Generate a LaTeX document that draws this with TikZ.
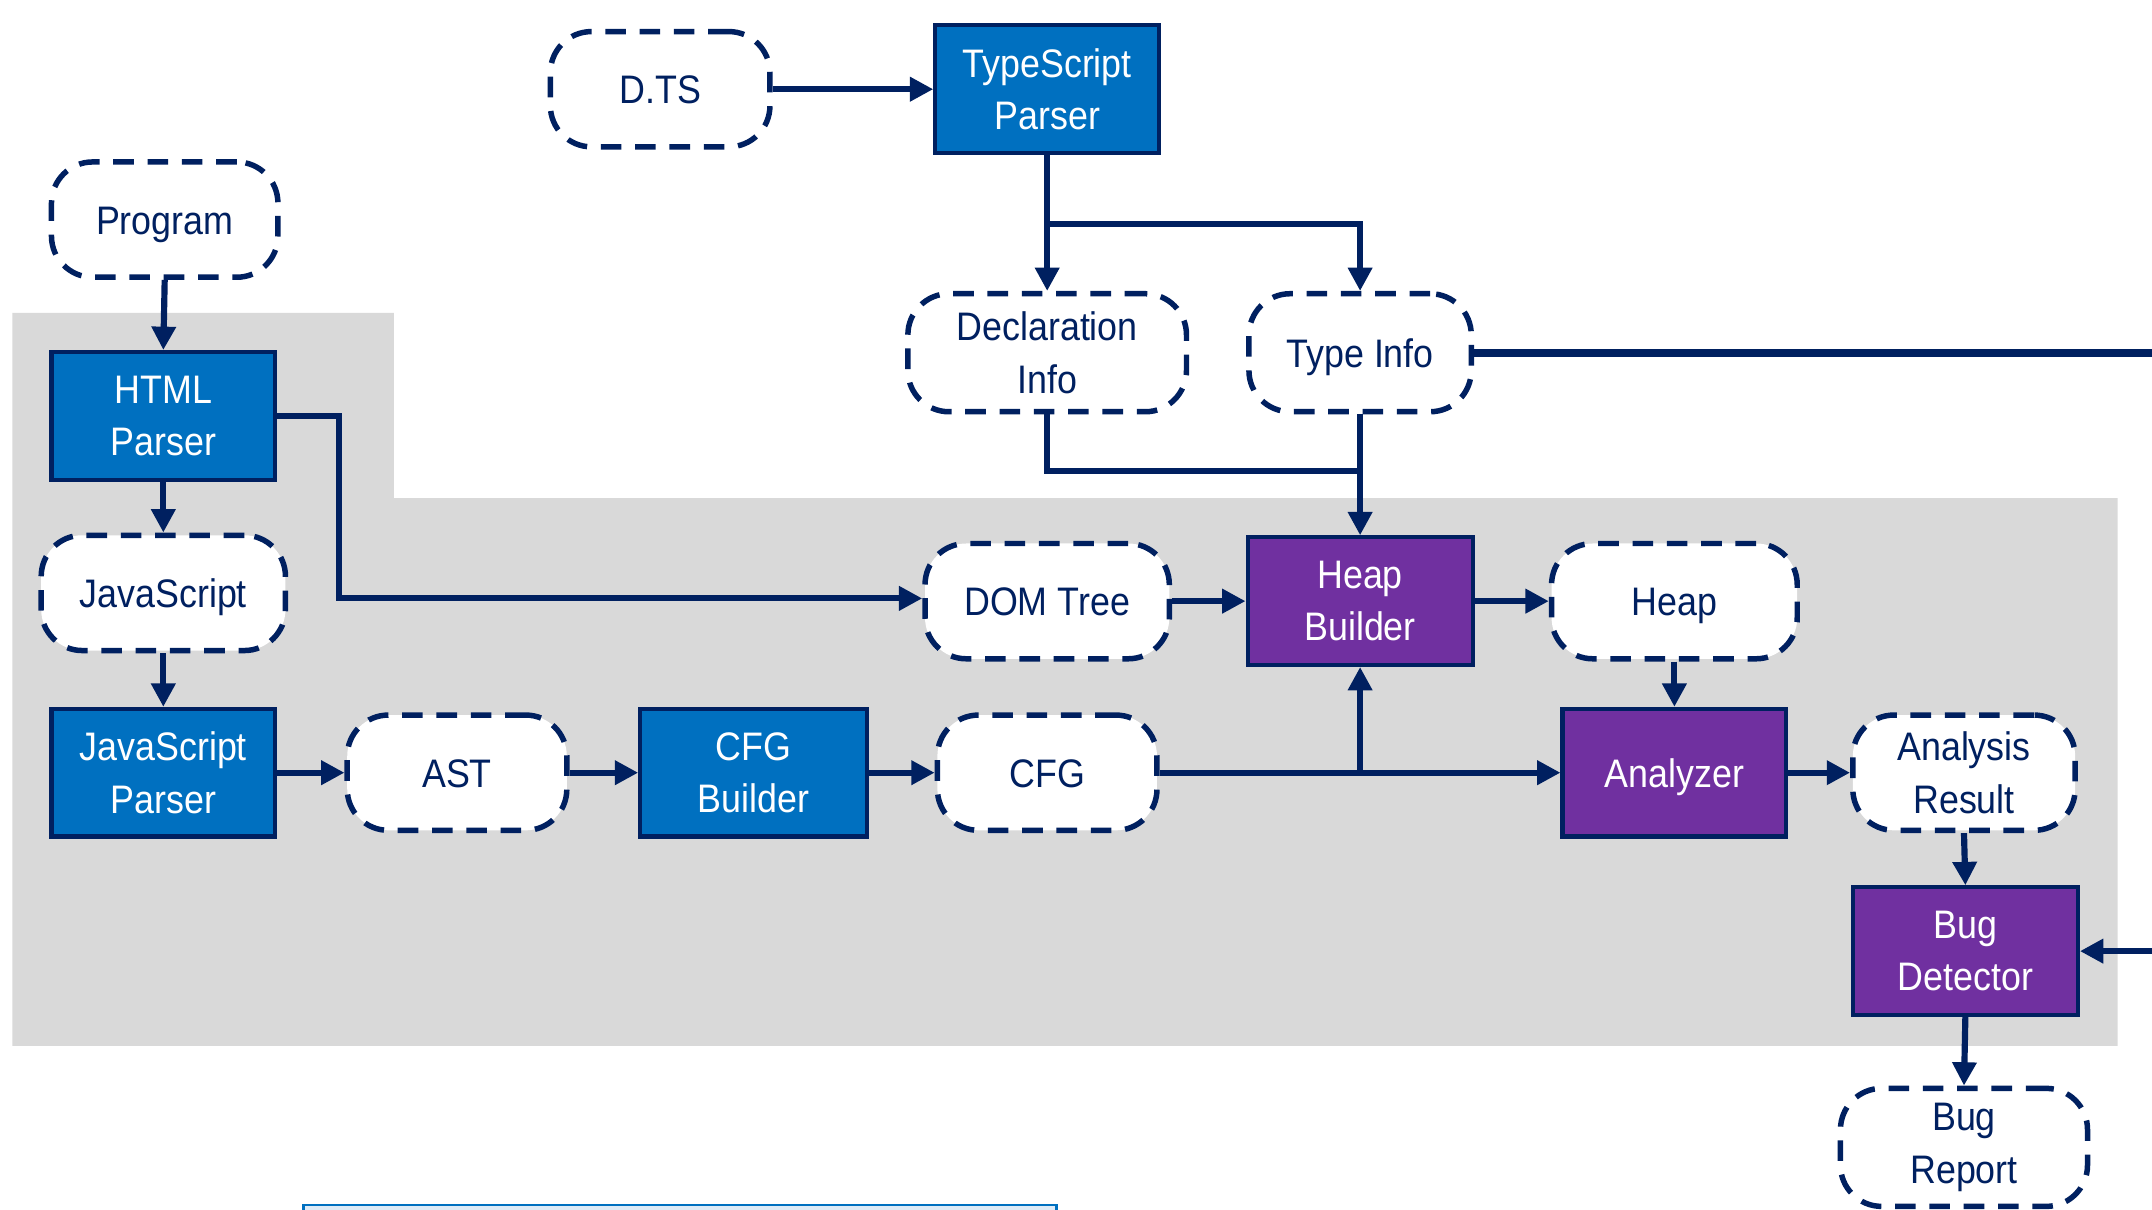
\documentclass[tikz,border=0pt]{standalone}
\usepackage{fontspec}
\setmainfont{Liberation Sans}[FakeStretch=0.9]
\usetikzlibrary{arrows.meta}
\definecolor{navy}{HTML}{002060}
\definecolor{boxblue}{HTML}{0070C0}
\definecolor{boxpurple}{HTML}{7030A0}
\definecolor{bggray}{HTML}{D9D9D9}
\definecolor{lightblue}{HTML}{DEEBF7}
\tikzset{
  txt/.style={font=\fontsize{29}{38}\selectfont, align=center, inner sep=0pt},
  one/.style={text height=21pt, text depth=0pt},
  dnode/.style={txt, draw=navy, line width=4pt, dash pattern=on 15pt off 10pt,
    rounded corners=30pt, fill=white, text=navy, minimum height=84pt},
  bbox/.style={txt, draw=navy, line width=3pt, fill=boxblue, text=white,
    minimum height=93pt, minimum width=163pt},
  pbox/.style={bbox, fill=boxpurple},
  conn/.style={draw=navy, line width=4.5pt,
    -{Triangle[length=17pt,width=17pt]}},
  plain/.style={draw=navy, line width=4.5pt},
}
\begin{document}
\begin{tikzpicture}[x=1pt,y=-1pt]
\clip (0,0) rectangle (1568,881);
\fill[white] (0,0) rectangle (1568,881);
% gray background
\fill[bggray] (9,228) -- (287,228) -- (287,363) -- (1543,363) -- (1543,762) -- (9,762) -- cycle;
% partial box at bottom
\draw[boxblue, line width=2pt, fill=lightblue] (221,895) -- (221,878) -- (770,878) -- (770,895);

% nodes
\node[dnode, one, minimum width=160pt] (dts) at (481,65) {D.TS};
\node[bbox] (tsp) at (763,65) {TypeScript\\Parser};
\node[dnode, one, minimum width=165pt] (prog) at (120,160) {Program};
\node[bbox] (html) at (119,303) {HTML\\Parser};
\node[dnode, one, minimum width=178pt] (js) at (119,432) {JavaScript};
\node[bbox] (jsp) at (119,563) {JavaScript\\Parser};
\node[dnode, one, minimum width=160pt] (ast) at (333,563) {AST};
\node[bbox, minimum width=165pt] (cfgb) at (549,563) {CFG\\Builder};
\node[dnode, one, minimum width=160pt] (cfg) at (763,563) {CFG};
\node[dnode, one, minimum width=178pt] (dom) at (763,438) {DOM Tree};
\node[dnode, minimum width=203pt, minimum height=86pt] (decl) at (763,257) {Declaration\\Info};
\node[dnode, one, minimum width=162pt, minimum height=86pt] (tinfo) at (991,257) {Type Info};
\node[pbox, minimum width=164pt] (hb) at (991,438) {Heap\\Builder};
\node[dnode, one, minimum width=179pt] (heap) at (1220,438) {Heap};
\node[pbox, one] (an) at (1220,563) {Analyzer};
\node[dnode, minimum width=162pt] (ar) at (1431,563) {Analysis\\Result};
\node[pbox, minimum width=164pt] (bd) at (1432,693) {Bug\\Detector};
\node[dnode, minimum width=180pt, minimum height=86pt] (br) at (1431,836) {Bug\\Report};

\coordinate (tsj) at (763,163);
\coordinate (dj) at (991,343);
\coordinate (cj) at (991,563);
\coordinate (offr) at (1600,257);
\coordinate (offb) at (1600,693);

% connectors
\draw[conn] (dts.east) -- (tsp.west);
\draw[conn] (tsp.south) -- (decl.north);
\draw[conn] (tsj) -| (tinfo.north);
\draw[plain, line width=6pt] (tinfo.east) -- (offr);
\draw[conn] (offb) -- (bd.east);
\draw[plain] (decl.south) |- (dj);
\draw[conn] (tinfo.south) -- (hb.north);
\draw[conn] (prog.south) -- (html.north);
\draw[conn] (html.east) -- (247,303) -- (247,436) -- (dom.west |- 0,436);
\draw[conn] (html.south) -- (js.north);
\draw[conn] (js.south) -- (jsp.north);
\draw[conn] (jsp.east) -- (ast.west);
\draw[conn] (ast.east) -- (cfgb.west);
\draw[conn] (cfgb.east) -- (cfg.west);
\draw[conn] (cfg.east) -- (an.west);
\draw[conn] (cj) -- (hb.south);
\draw[conn] (dom.east) -- (hb.west);
\draw[conn] (hb.east) -- (heap.west);
\draw[conn] (heap.south) -- (an.north);
\draw[conn] (an.east) -- (ar.west);
\draw[conn] (ar.south) -- (bd.north);
\draw[conn] (bd.south) -- (br.north);
\end{tikzpicture}
\end{document}
